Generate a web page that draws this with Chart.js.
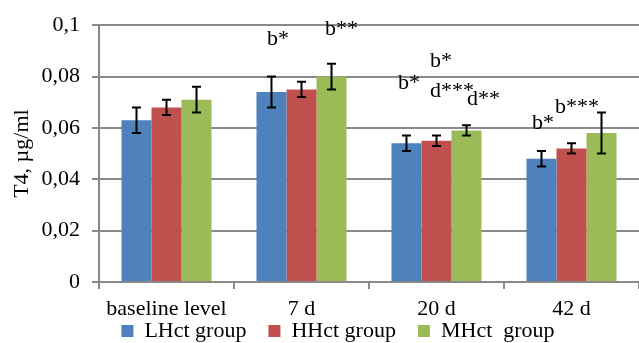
<!DOCTYPE html>
<html>
<head>
<meta charset="utf-8">
<script src="https://cdn.jsdelivr.net/npm/chart.js@4"></script>
<style>
  body { margin: 0; background: #fff; }
  #wrap { width: 639px; height: 343px; }
</style>
</head>
<body>
<div id="wrap"><canvas id="chart" width="639" height="343"></canvas></div>
<script>
// --- DATA ---
const categories = ['baseline level', '7 d', '20 d', '42 d'];
const seriesNames = ['LHct group', 'HHct group', 'MHct  group'];
const lhctValues = [0.063, 0.074, 0.054, 0.048];
const hhctValues = [0.068, 0.075, 0.055, 0.052];
const mhctValues = [0.071, 0.080, 0.059, 0.058];
const lhctErrors = [0.005, 0.006, 0.003, 0.003];
const hhctErrors = [0.003, 0.003, 0.002, 0.002];
const mhctErrors = [0.005, 0.005, 0.002, 0.008];
const yTickLabels = ['0', '0,02', '0,04', '0,06', '0,08', '0,1'];

// significance notes: text, category index, y value of the text baseline
const noteTexts = ['b*', 'b**', 'b*', 'b*', 'd***', 'd**', 'b*', 'b***'];
const noteCategories = [1, 1, 2, 2, 2, 2, 3, 3];
const noteValues = [0.0923, 0.0962, 0.0838, 0.075, 0.0722, 0.0688, 0.0596, 0.066];

// --- LAYOUT / STYLE ---
const noteOffsets = [-34.5, 23.5, -6.5, -38.5, -6.5, 30.5, -39.5, -16.5]; // px from category centre
const colors = ['#4F81BD', '#C0504D', '#9BBB59'];
const gridColor = '#898989';
const FONT = "'Liberation Serif', 'Times New Roman', serif";
const textFont = { family: FONT, size: 22 };

// error bars drawn from the y scale
const errorBars = {
    id: 'errorBars',
    afterDatasetsDraw(chart) {
        const ctx = chart.ctx;
        const y = chart.scales.y;
        ctx.save();
        ctx.strokeStyle = '#000';
        ctx.lineWidth = 2;
        chart.data.datasets.forEach((ds, i) => {
            chart.getDatasetMeta(i).data.forEach((bar, j) => {
                const v = ds.data[j], e = ds.errors[j];
                const top = y.getPixelForValue(v + e);
                const bot = y.getPixelForValue(v - e);
                ctx.beginPath();
                ctx.moveTo(bar.x, top); ctx.lineTo(bar.x, bot);
                ctx.moveTo(bar.x - 4.5, top); ctx.lineTo(bar.x + 4.5, top);
                ctx.moveTo(bar.x - 4.5, bot); ctx.lineTo(bar.x + 4.5, bot);
                ctx.stroke();
            });
        });
        ctx.restore();
    }
};

// significance letters above the groups
const notes = {
    id: 'notes',
    afterDraw(chart) {
        const ctx = chart.ctx;
        const x = chart.scales.x, y = chart.scales.y;
        ctx.save();
        ctx.font = '22px ' + FONT;
        ctx.fillStyle = '#000';
        ctx.textAlign = 'left';
        ctx.textBaseline = 'alphabetic';
        noteTexts.forEach((t, i) => {
            ctx.fillText(t, x.getPixelForValue(noteCategories[i]) + noteOffsets[i], y.getPixelForValue(noteValues[i]));
        });
        ctx.restore();
    }
};

const valueSets = [lhctValues, hhctValues, mhctValues];
const errorSets = [lhctErrors, hhctErrors, mhctErrors];

new Chart(document.getElementById('chart'), {
    type: 'bar',
    data: {
        labels: categories,
        datasets: seriesNames.map((name, i) => ({
            label: name,
            data: valueSets[i],
            errors: errorSets[i],
            backgroundColor: colors[i],
            borderWidth: 0,
            categoryPercentage: 0.667,
            barPercentage: 1
        }))
    },
    options: {
        responsive: false,
        animation: false,
        devicePixelRatio: 1,
        layout: { padding: { left: 37, right: 0, top: 22, bottom: -9 } },
        plugins: {
            tooltip: { enabled: false },
            legend: {
                position: 'bottom',
                labels: { boxWidth: 12, boxHeight: 12, padding: 22, color: '#000', font: textFont }
            }
        },
        scales: {
            x: {
                grid: { offset: true, drawOnChartArea: false, drawTicks: true, tickLength: 7, color: gridColor, lineWidth: 2 },
                border: { color: gridColor, width: 2 },
                // mirror switches off label clipping; negative padding puts the labels back below the axis
                ticks: { autoSkip: false, maxRotation: 0, padding: -40, mirror: true, color: '#000', font: textFont },
                afterFit: s => { s.height = 16; }
            },
            y: {
                min: 0, max: 0.1,
                ticks: { stepSize: 0.02, padding: 12, color: '#000', font: textFont, callback: (v, i) => yTickLabels[i] },
                grid: { color: gridColor, lineWidth: 2, tickLength: 7 },
                border: { color: gridColor, width: 2 },
                title: { display: true, text: 'T4, µg/ml', color: '#000', font: textFont, padding: { top: -28, bottom: 0 } },
                afterFit: s => { s.width = 62; }
            }
        }
    },
    plugins: [errorBars, notes]
});
</script>
</body>
</html>
